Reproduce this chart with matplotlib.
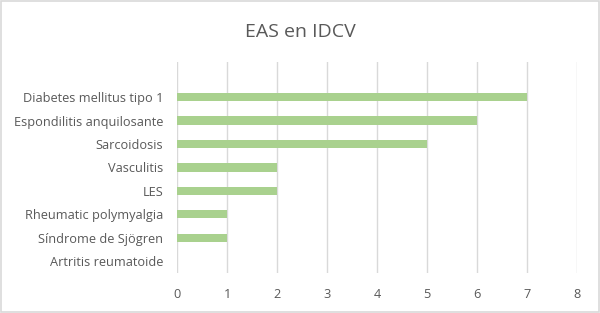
import matplotlib.pyplot as plt
from matplotlib.patches import Rectangle

categories = ['Artritis reumatoide', 'Síndrome de Sjögren', 'Rheumatic polymyalgia',
              'LES', 'Vasculitis', 'Sarcoidosis', 'Espondilitis anquilosante',
              'Diabetes mellitus tipo 1']
values = [0, 1, 1, 2, 2, 5, 6, 7]
xticks = [0, 1, 2, 3, 4, 5, 6, 7, 8]

text_color = '#595959'
plt.rcParams['font.family'] = ['Open Sans', 'DejaVu Sans']

fig = plt.figure(figsize=(6, 3.13), dpi=100)
ax = fig.add_axes([0.295, 0.128, 0.667, 0.674])

ypos = list(range(len(categories)))
ax.barh(ypos, values, height=0.35, color='#A9D18E', zorder=3)

ax.set_xlim(0, 8)
ax.set_ylim(-0.5, len(categories) + 0.5)
ax.set_xticks(xticks)
ax.set_yticks(ypos)
ax.set_yticklabels(categories)
ax.grid(axis='x', color='#D9D9D9', linewidth=1, zorder=0)
for s in ax.spines.values():
    s.set_visible(False)
ax.tick_params(axis='both', length=0, colors=text_color, labelsize=9.2)
ax.tick_params(axis='x', pad=11)
ax.tick_params(axis='y', pad=10)

fig.text(0.5, 0.897, 'EAS en IDCV', ha='center', va='center', fontsize=14, color=text_color)

fig.patches.append(Rectangle((0.002, 0.003), 0.996, 0.994, transform=fig.transFigure,
                             fill=False, edgecolor='#D9D9D9', linewidth=1.2))

fig.savefig('out.png', dpi=100, facecolor='white')
